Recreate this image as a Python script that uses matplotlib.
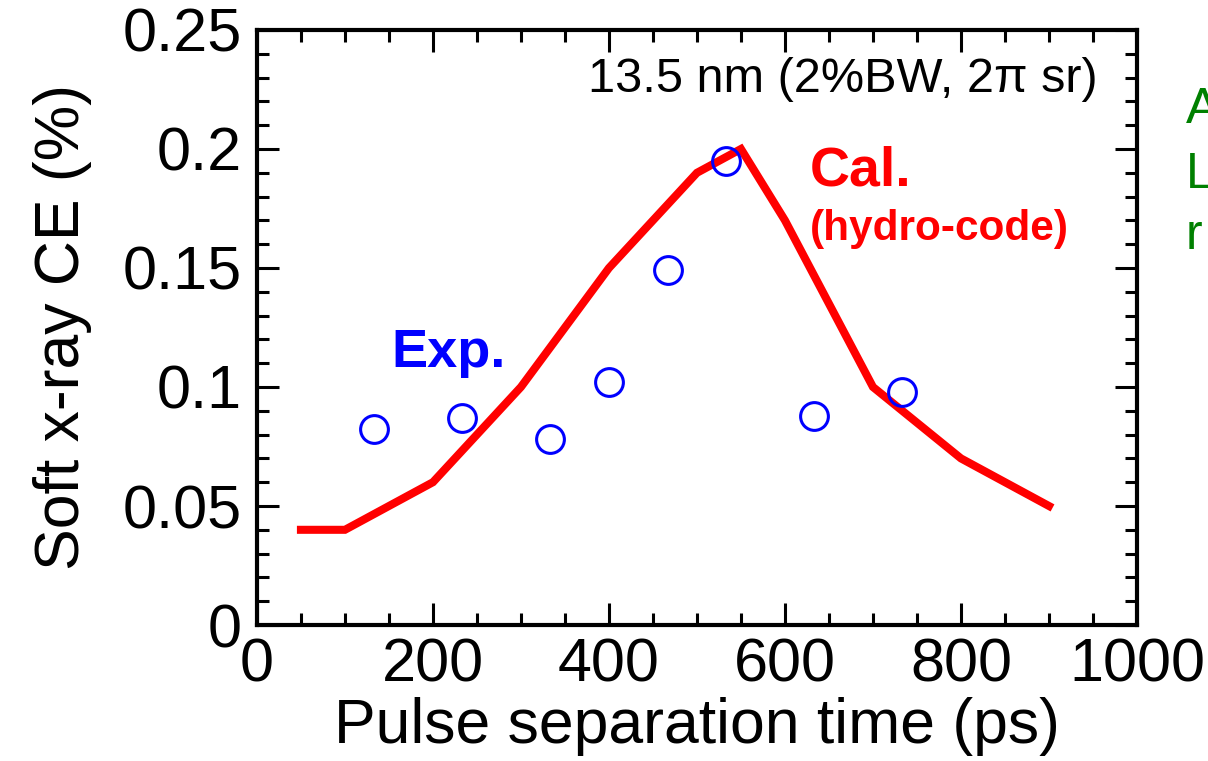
import matplotlib.pyplot as plt
from matplotlib.ticker import MultipleLocator

plt.rcParams['font.family'] = ['Liberation Sans', 'DejaVu Sans']

# calculated CE (hydro-code)
calTime = [50, 100, 200, 300, 400, 500, 550, 600, 700, 800, 900]
calCE = [0.04, 0.04, 0.06, 0.10, 0.15, 0.19, 0.20, 0.17, 0.10, 0.07, 0.05]

# measured CE
expTime = [133, 233, 333, 400, 467, 533, 633, 733]
expCE = [0.0825, 0.087, 0.078, 0.102, 0.149, 0.195, 0.088, 0.098]

fig = plt.figure(figsize=(12.08, 7.61), dpi=100)
ax = fig.add_axes([0.2127, 0.1787, 0.9412 - 0.2127, 0.9606 - 0.1787])

ax.plot(calTime, calCE, color='#ff0000', lw=5.8, solid_joinstyle='miter', zorder=2)
ax.plot(expTime, expCE, 'o', ms=20, mfc='none', mec='#0000ff', mew=2.2, zorder=3)

ax.set_xlim(0, 1000)
ax.set_ylim(0, 0.25)
ax.xaxis.set_major_locator(MultipleLocator(200))
ax.xaxis.set_minor_locator(MultipleLocator(50))
ax.yaxis.set_major_locator(MultipleLocator(0.05))
ax.yaxis.set_minor_locator(MultipleLocator(0.01))
ax.set_yticks([0, 0.05, 0.1, 0.15, 0.2, 0.25])
ax.set_yticklabels(['0', '0.05', '0.1', '0.15', '0.2', '0.25'])

for s in ax.spines.values():
	s.set_linewidth(3)
ax.tick_params(which='both', direction='in', top=True, right=True, width=2.2, labelsize=44, pad=9)
ax.tick_params(axis='y', pad=11)
ax.tick_params(which='major', length=16)
ax.tick_params(which='minor', length=8.5)

ax.set_xlabel("Pulse separation time (ps)", fontsize=45, labelpad=2)
ax.set_ylabel("Soft x-ray CE (%)", fontsize=45, labelpad=22)

ax.text(0.955, 0.955, "13.5 nm (2%BW, 2\u03c0 sr)", transform=ax.transAxes, fontsize=35, ha='right', va='top')
ax.text(0.153, 0.457, "Exp.", transform=ax.transAxes, fontsize=39, fontweight='bold', color='#0000ff', ha='left', va='center')
ax.text(0.628, 0.762, "Cal.", transform=ax.transAxes, fontsize=40, fontweight='bold', color='#ff0000', ha='left', va='center')
ax.text(0.628, 0.666, "(hydro-code)", transform=ax.transAxes, fontsize=30.5, fontweight='bold', color='#ff0000', ha='left', va='center')

for t, yy in zip(["A", "L", "r"], [0.855, 0.77, 0.69]):
	fig.text(1186 / 1208, yy, t, fontsize=36, color='#008000', ha='left', va='center')

fig.savefig("out.png", dpi=100)
